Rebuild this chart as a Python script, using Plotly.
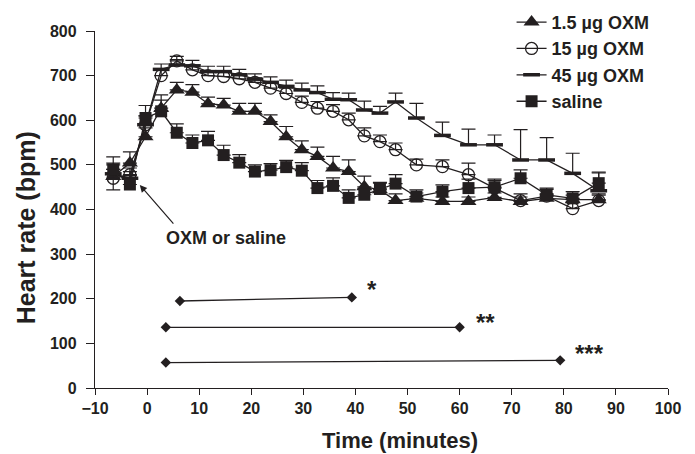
import plotly.graph_objects as go

times = [-6.5, -3.3, -0.3, 2.7, 5.7, 8.7, 11.7, 14.7, 17.7, 20.7, 23.7, 26.7, 29.7, 32.7,
         35.7, 38.7, 41.7, 44.7, 47.7, 51.7, 56.7, 61.7, 66.7, 71.7, 76.7, 81.7, 86.7]

oxm_1_5 = [474, 504, 563, 627, 668, 663, 637, 634, 620, 620, 597, 563, 534, 519,
           493, 485, 451, 444, 420, 425, 418, 418, 427, 418, 425, 422, 422]
err_1_5 = [30, 25, 20, 30, 17, 17, 15, 15, 18, 18, 15, 23, 20, 21,
           26, 26, 24, 15, 15, 12, 10, 10, 10, 10, 10, 10, 10]
err_1_5_minus = [30, 0, 0, 0, 0, 0, 0, 0, 0, 0, 0, 0, 0, 0,
                 0, 0, 0, 0, 0, 0, 0, 0, 0, 0, 0, 0, 0]

oxm_15 = [470, 478, 590, 700, 733, 713, 700, 698, 693, 685, 672, 660, 640, 627,
          620, 601, 565, 552, 534, 500, 496, 478, 448, 420, 430, 402, 420]
err_15 = [20, 15, 20, 12, 10, 10, 10, 10, 10, 10, 12, 12, 14, 15,
          15, 15, 18, 15, 15, 13, 15, 26, 20, 15, 15, 15, 15]

oxm_45 = [480, 470, 590, 714, 724, 722, 709, 709, 702, 692, 685, 676, 668, 662,
          647, 646, 623, 616, 641, 605, 566, 545, 545, 511, 511, 481, 442]
err_45 = [20, 15, 20, 12, 12, 12, 12, 12, 12, 12, 12, 14, 15, 15,
          15, 15, 20, 15, 20, 33, 30, 35, 22, 68, 50, 45, 40]

saline = [490, 456, 605, 620, 572, 549, 555, 522, 505, 485, 488, 495, 487, 448,
          453, 426, 433, 446, 458, 429, 440, 448, 450, 470, 433, 425, 459]
err_sal = [28, 20, 28, 25, 20, 18, 20, 22, 18, 15, 15, 15, 18, 17,
           18, 18, 15, 15, 20, 15, 15, 20, 15, 19, 15, 15, 25]

sig_start_t = [6.3, 3.6, 3.6]
sig_end_t = [39.3, 60.0, 79.3]
sig_start_v = [195, 136, 57]
sig_end_v = [203, 136, 62]
sig_labels = ["*", "**", "***"]
sig_label_t = [43.2, 65.0, 85.0]
sig_label_v = [220, 146, 78]

x_ticks = list(range(-10, 101, 10))
y_ticks = list(range(0, 801, 100))

INK = "#231f20"
FONT = "Liberation Sans, Arial, sans-serif"

fig = go.Figure()

def add_series(name, y, err, symbol, size, errminus):
    ey = dict(type="data", array=err, symmetric=False, arrayminus=errminus,
              color=INK, thickness=1.2, width=7)
    if symbol == "circle-open":
        mline = dict(color=INK, width=1.3)
    elif symbol == "line-ew":
        mline = dict(color=INK, width=3.5)
    else:
        mline = dict(color=INK, width=0)
    fig.add_trace(go.Scatter(
        x=times, y=y, name=name, mode="lines+markers", legendgroup=name,
        line=dict(color=INK, width=1.3),
        marker=dict(symbol=symbol, size=size, color=INK, line=mline),
        error_y=ey,
    ))

zeros = [0] * len(times)
add_series("1.5 µg OXM", oxm_1_5, err_1_5, "triangle-up", 14, err_1_5_minus)
add_series("15 µg OXM", oxm_15, err_15, "circle-open", 12, zeros)
add_series("45 µg OXM", oxm_45, err_45, "line-ew", 12, zeros)
add_series("saline", saline, err_sal, "square", 12, zeros)

for i in range(len(sig_labels)):
    fig.add_trace(go.Scatter(
        x=[sig_start_t[i], sig_end_t[i]], y=[sig_start_v[i], sig_end_v[i]],
        mode="lines+markers", showlegend=False,
        line=dict(color=INK, width=1.3),
        marker=dict(symbol="diamond", size=8, color=INK),
    ))
    fig.add_annotation(x=sig_label_t[i], y=sig_label_v[i], text=sig_labels[i],
                       showarrow=False, font=dict(family=FONT, size=24, color=INK, weight="bold"))

# arrow to injection time
fig.add_annotation(x=-1.4, y=455, ax=5.3, ay=365, axref="x", ayref="y",
                   text="", showarrow=True, arrowhead=2, arrowsize=1.2,
                   arrowwidth=1.2, arrowcolor=INK)
fig.add_annotation(x=15.1, y=336, text="OXM or saline", showarrow=False,
                   font=dict(family=FONT, size=18, color=INK, weight="bold"))

# axis titles
fig.add_annotation(xref="paper", yref="paper", x=-0.12, y=0.448, text="Heart rate (bpm)",
                   textangle=-90, showarrow=False, xanchor="center", yanchor="middle",
                   font=dict(family=FONT, size=25, color=INK, weight="bold"))
fig.add_annotation(xref="paper", yref="paper", x=0.532, y=-0.146, text="Time (minutes)",
                   showarrow=False, xanchor="center", yanchor="middle",
                   font=dict(family=FONT, size=22, color=INK, weight="bold"))

fig.update_layout(
    width=695, height=454,
    margin=dict(l=95, r=27, t=31, b=66, autoexpand=False),
    plot_bgcolor="white", paper_bgcolor="white",
    font=dict(family=FONT, color=INK),
    legend=dict(x=0.727, y=1.076, xanchor="left", yanchor="top",
                bgcolor="rgba(0,0,0,0)",
                font=dict(family=FONT, size=18, color=INK, weight="bold"),
                itemwidth=30, tracegroupgap=0),
    xaxis=dict(range=[-10, 100], tickvals=x_ticks, showgrid=False, zeroline=False,
               showline=True, linecolor=INK, linewidth=1.3,
               ticks="outside", ticklen=6, tickcolor=INK, tickwidth=1.2,
               tickfont=dict(family=FONT, size=16, color=INK, weight="bold")),
    yaxis=dict(range=[0, 800], tickvals=y_ticks, showgrid=False, zeroline=False,
               showline=True, linecolor=INK, linewidth=1.3,
               ticks="outside", ticklen=8, tickcolor=INK, tickwidth=1.2,
               ticklabelstandoff=6,
               tickfont=dict(family=FONT, size=16, color=INK, weight="bold")),
)

fig.write_html("out.html", config={"displayModeBar": False},
               post_script="document.body.style.margin='0';")
